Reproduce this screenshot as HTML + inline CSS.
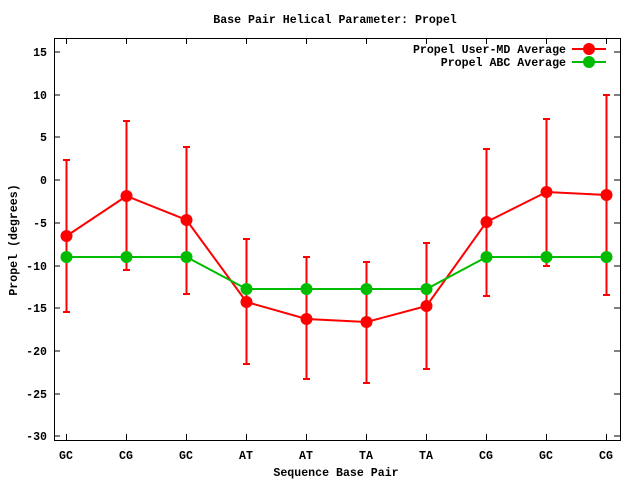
<!DOCTYPE html>
<html><head><meta charset="utf-8"><style>html,body{margin:0;padding:0;background:#fff}svg{display:block}text{font-family:"Liberation Mono",monospace;font-weight:bold;font-size:11.6px;fill:#000}</style></head><body>
<svg width="640" height="480" xmlns="http://www.w3.org/2000/svg">
<text x="335" y="23" text-anchor="middle">Base Pair Helical Parameter: Propel</text>
<rect x="54.5" y="38.5" width="566" height="402" fill="none" stroke="#000" stroke-width="1"/>
<g stroke="#000" stroke-width="1">
<path d="M54 52h6M620 52h-6M54 95h6M620 95h-6M54 137h6M620 137h-6M54 180h6M620 180h-6M54 223h6M620 223h-6M54 266h6M620 266h-6M54 308h6M620 308h-6M54 351h6M620 351h-6M54 394h6M620 394h-6M54 436h6M620 436h-6"/>
<path d="M66.5 440v-6M66.5 38v6M126.5 440v-6M126.5 38v6M186.5 440v-6M186.5 38v6M246.5 440v-6M246.5 38v6M306.5 440v-6M306.5 38v6M366.5 440v-6M366.5 38v6M426.5 440v-6M426.5 38v6M486.5 440v-6M486.5 38v6M546.5 440v-6M546.5 38v6M606.5 440v-6M606.5 38v6"/>
</g>
<g text-anchor="end">
<text x="47" y="56">15</text><text x="47" y="99">10</text><text x="47" y="141">5</text><text x="47" y="184">0</text><text x="47" y="227">-5</text><text x="47" y="270">-10</text><text x="47" y="312">-15</text><text x="47" y="355">-20</text><text x="47" y="398">-25</text><text x="47" y="440">-30</text>
</g>
<g text-anchor="middle">
<text x="66" y="459">GC</text><text x="126" y="459">CG</text><text x="186" y="459">GC</text><text x="246" y="459">AT</text><text x="306" y="459">AT</text><text x="366" y="459">TA</text><text x="426" y="459">TA</text><text x="486" y="459">CG</text><text x="546" y="459">GC</text><text x="606" y="459">CG</text>
<text x="336" y="476">Sequence Base Pair</text>
<text transform="translate(17,240) rotate(-90)">Propel (degrees)</text>
</g>
<text x="566" y="53" text-anchor="end">Propel User-MD Average</text>
<text x="566" y="66" text-anchor="end">Propel ABC Average</text>
<line x1="572" y1="49" x2="606" y2="49" stroke="#f00" stroke-width="2"/><circle cx="589" cy="49" r="6" fill="#f00"/>
<line x1="572" y1="62" x2="606" y2="62" stroke="#0b0" stroke-width="2"/><circle cx="589" cy="62" r="6" fill="#0b0"/>
<g stroke="#f00" stroke-width="2" fill="none">
<path d="M66.5 160V312M63 160h7M63 312h7M126.5 121V270M123 121h7M123 270h7M186.5 147V294M183 147h7M183 294h7M246.5 239V364M243 239h7M243 364h7M306.5 257V379M303 257h7M303 379h7M366.5 262V383M363 262h7M363 383h7M426.5 243V369M423 243h7M423 369h7M486.5 149V296M483 149h7M483 296h7M546.5 119V266M543 119h7M543 266h7M606.5 95V295M603 95h7M603 295h7"/>
<polyline points="66.5,236 126.5,196 186.5,220 246.5,302 306.5,319 366.5,322 426.5,306 486.5,222 546.5,192 606.5,195"/>
</g>
<g fill="#f00"><circle cx="66.5" cy="236" r="6"/><circle cx="126.5" cy="196" r="6"/><circle cx="186.5" cy="220" r="6"/><circle cx="246.5" cy="302" r="6"/><circle cx="306.5" cy="319" r="6"/><circle cx="366.5" cy="322" r="6"/><circle cx="426.5" cy="306" r="6"/><circle cx="486.5" cy="222" r="6"/><circle cx="546.5" cy="192" r="6"/><circle cx="606.5" cy="195" r="6"/></g>
<polyline points="66.5,257 126.5,257 186.5,257 246.5,289 306.5,289 366.5,289 426.5,289 486.5,257 546.5,257 606.5,257" stroke="#0b0" stroke-width="2" fill="none"/>
<g fill="#0b0"><circle cx="66.5" cy="257" r="6"/><circle cx="126.5" cy="257" r="6"/><circle cx="186.5" cy="257" r="6"/><circle cx="246.5" cy="289" r="6"/><circle cx="306.5" cy="289" r="6"/><circle cx="366.5" cy="289" r="6"/><circle cx="426.5" cy="289" r="6"/><circle cx="486.5" cy="257" r="6"/><circle cx="546.5" cy="257" r="6"/><circle cx="606.5" cy="257" r="6"/></g>
</svg>
</body></html>
